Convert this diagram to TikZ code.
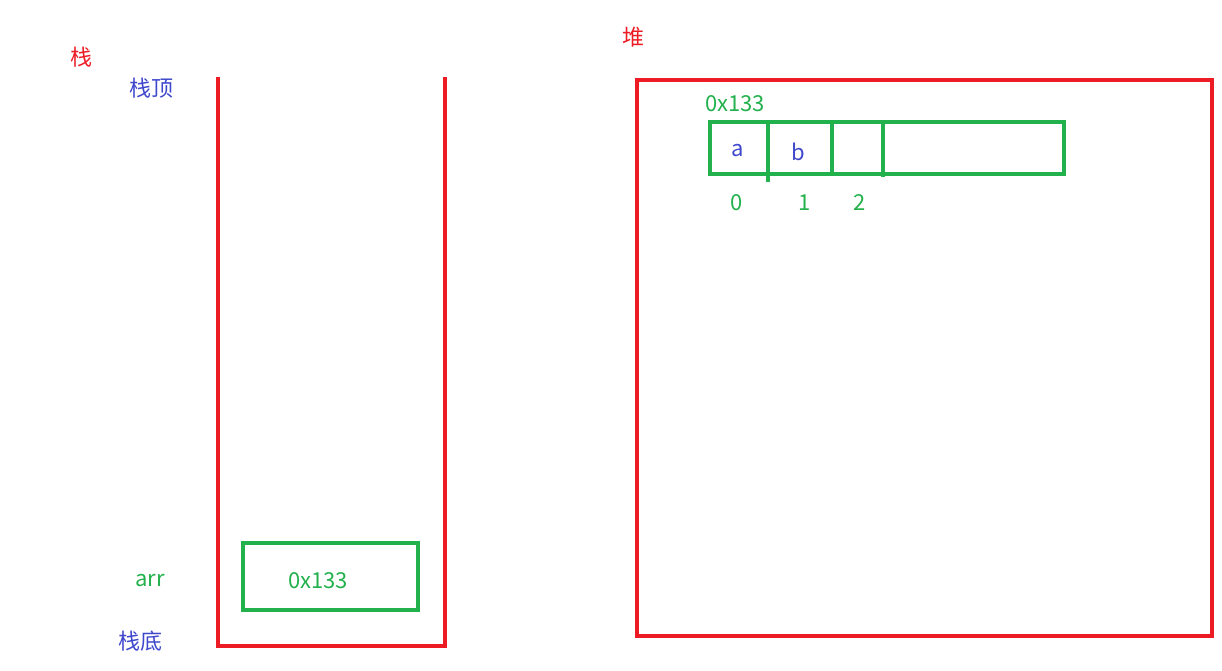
\documentclass[tikz,border=0pt]{standalone}
\usepackage{fontspec}
\setmainfont{Noto Sans CJK SC}
\definecolor{pred}{HTML}{ED1C24}
\definecolor{pgreen}{HTML}{22B14C}
\definecolor{pblue}{HTML}{3F48CC}
\begin{document}
\begin{tikzpicture}[x=1pt,y=-1pt,
  redline/.style={draw=pred,line width=4pt},
  greenline/.style={draw=pgreen,line width=4pt},
  lbl/.style={inner sep=0pt,font=\fontsize{22}{26}\selectfont},
  redlbl/.style={lbl,text=pred},
  bluelbl/.style={lbl,text=pblue},
  greenlbl/.style={lbl,text=pgreen}]
\useasboundingbox (0,0) rectangle (1222,670);
% stack
\draw[redline] (218,77) -- (218,646) -- (445,646) -- (445,77);
\node[redlbl] (stk) at (81,57) {栈};
\node[bluelbl] (top) at (151,88) {栈顶};
\node[bluelbl] (bot) at (140,641) {栈底};
\node[greenlbl] (arr) at (150,581) {arr};
\node[greenline,minimum width=175pt,minimum height=67pt,inner sep=0pt] (cell) at (330.5,576.5) {};
\node[greenlbl] (addr) at (318,581) {0x133};
% heap
\node[redlbl] (heap) at (633,37) {堆};
\draw[redline] (637,80) rectangle (1212,636);
\node[greenlbl] (haddr) at (735,104) {0x133};
\draw[greenline] (710,122) rectangle (1064,174);
\draw[greenline] (768,122) -- (768,182);
\draw[greenline] (832,122) -- (832,174);
\draw[greenline] (883,122) -- (883,177);
\node[bluelbl] (ea) at (738,151) {a};
\node[bluelbl] (eb) at (798,152) {b};
\node[greenlbl] (i0) at (737,203) {0};
\node[greenlbl] (i1) at (805,203) {1};
\node[greenlbl] (i2) at (860,203) {2};
\end{tikzpicture}
\end{document}
